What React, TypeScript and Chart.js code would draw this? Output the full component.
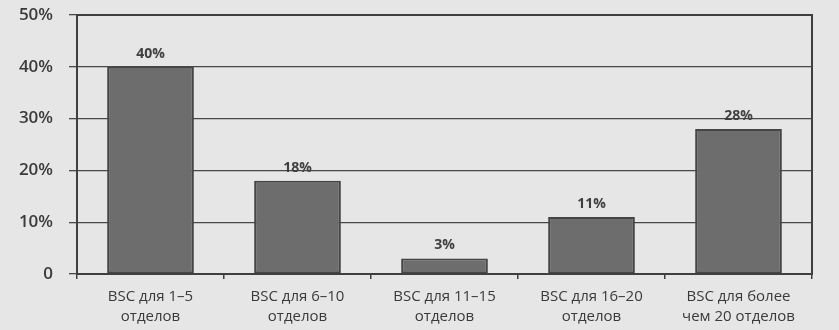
import React, { useEffect, useRef } from "react";
import { Chart, registerables } from "chart.js";

Chart.register(...registerables);

const categories: string[][] = [
  ["BSC для 1–5", "отделов"],
  ["BSC для 6–10", "отделов"],
  ["BSC для 11–15", "отделов"],
  ["BSC для 16–20", "отделов"],
  ["BSC для более", "чем 20 отделов"],
];
const values: number[] = [40, 18, 3, 11, 28];
const yTicks: number[] = [0, 10, 20, 30, 40, 50];

const BG = "#e6e6e6";
const INK = "#3a3a3a";

const bgPlugin = {
  id: "bgFill",
  beforeDraw(chart: any) {
    const { ctx, width, height } = chart;
    ctx.save();
    ctx.fillStyle = BG;
    ctx.fillRect(0, 0, width, height);
    ctx.restore();
  },
  afterDatasetsDraw(chart: any) {
    const { ctx, chartArea } = chart;
    ctx.save();
    ctx.strokeStyle = "#3f3f3f";
    ctx.lineWidth = 2;
    ctx.strokeRect(chartArea.left, chartArea.top, chartArea.right - chartArea.left, chartArea.bottom - chartArea.top);
    // data labels
    const meta = chart.getDatasetMeta(0);
    ctx.fillStyle = "#404040";
    ctx.font = "bold 14px 'Open Sans', sans-serif";
    ctx.textAlign = "center";
    ctx.textBaseline = "bottom";
    meta.data.forEach((bar: any, i: number) => {
      ctx.fillText(values[i] + "%", bar.x, bar.y - 6);
    });
    ctx.restore();
  },
};

export default function App() {
  const ref = useRef<HTMLCanvasElement | null>(null);
  useEffect(() => {
    document.body.style.margin = "0";
    document.body.style.background = BG;
    const chart = new Chart(ref.current as HTMLCanvasElement, {
      type: "bar",
      data: {
        labels: categories,
        datasets: [
          {
            data: values,
            backgroundColor: "#6d6d6d",
            borderColor: "#454545",
            borderWidth: 2,
            borderSkipped: false,
            categoryPercentage: 1,
            barPercentage: 0.59,
          },
        ],
      },
      options: {
        animation: false,
        responsive: false,
        maintainAspectRatio: false,
        layout: { padding: { top: 15, right: 27, left: 0, bottom: 0 } },
        plugins: { legend: { display: false }, tooltip: { enabled: false } },
        scales: {
          x: {
            offset: true,
            grid: {
              offset: true,
              drawOnChartArea: false,
              drawTicks: true,
              tickLength: 5,
              color: "#3f3f3f",
              lineWidth: 1.5,
            },
            border: { display: true, color: "#3f3f3f", width: 2 },
            ticks: {
              color: INK,
              padding: 8,
              font: { family: "'Open Sans', sans-serif", size: 15, weight: "500", lineHeight: 1.3 },
              maxRotation: 0,
              autoSkip: false,
            },
            afterFit(scale: any) {
              scale.height = 56;
              scale.paddingLeft = 0;
              scale.paddingRight = 0;
            },
          },
          y: {
            min: 0,
            max: 50,
            afterBuildTicks(scale: any) {
              scale.ticks = yTicks.map((v) => ({ value: v }));
            },
            grid: {
              color: "#484848",
              lineWidth: 1.3,
              tickLength: 8,
              drawTicks: true,
            },
            border: { display: true, color: "#3f3f3f", width: 2 },
            ticks: {
              color: INK,
              padding: 16,
              font: { family: "'Open Sans', sans-serif", size: 17, weight: "600" },
              callback: (v: any) => (Number(v) === 0 ? "0" : v + "%"),
            },
            afterFit(scale: any) {
              scale.width = 77;
              scale.paddingTop = 0;
              scale.paddingBottom = 0;
            },
          },
        },
      },
      plugins: [bgPlugin],
    } as any);
    return () => chart.destroy();
  }, []);
  return (
    <div style={{ position: "absolute", left: 0, top: 0, width: 839, height: 330, background: BG }}>
      <canvas ref={ref} width={839} height={330} style={{ display: "block" }} />
    </div>
  );
}
